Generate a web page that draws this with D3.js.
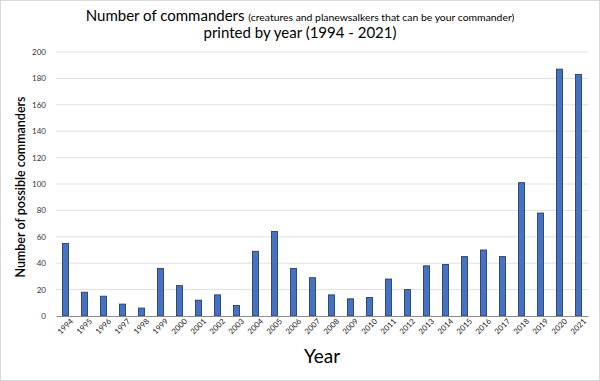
<!DOCTYPE html>
<html><head><meta charset="utf-8">
<script src="https://cdn.jsdelivr.net/npm/d3@7"></script>
<style>body{margin:0;background:#fff}svg{display:block}</style>
</head><body><svg id="c" width="600" height="381"></svg>
<script>
const years = ["1994","1995","1996","1997","1998","1999","2000","2001","2002","2003","2004","2005","2006","2007","2008","2009","2010","2011","2012","2013","2014","2015","2016","2017","2018","2019","2020","2021"];
const counts = [55,18,15,9,6,36,23,12,16,8,49,64,36,29,16,13,14,28,20,38,39,45,50,45,101,78,187,183];
const yTicks = [0,20,40,60,80,100,120,140,160,180,200];

const svg = d3.select("#c");
const W = 600, H = 381;
const m = {left:56, right:12, top:52, bottom:65};
const font = "Lato, 'DejaVu Sans', sans-serif";

svg.append("rect").attr("x",0.5).attr("y",0.5).attr("width",W-1).attr("height",H-1)
  .attr("fill","#fff").attr("stroke","#d9d9d9");

const x = d3.scaleBand().domain(years).range([m.left, W-m.right]).paddingInner(0.68).paddingOuter(0.34);
const y = d3.scaleLinear().domain([0,200]).range([H-m.bottom, m.top]);

// gridlines
svg.append("g").selectAll("line").data(yTicks.filter(d=>d>0)).join("line")
  .attr("x1",m.left).attr("x2",W-m.right)
  .attr("y1",d=>y(d)).attr("y2",d=>y(d))
  .attr("stroke","#e0e0e0").attr("stroke-width",1);

// y axis labels
const ya = svg.append("g").attr("transform",`translate(${m.left},0)`)
  .call(d3.axisLeft(y).tickValues(yTicks).tickSize(0).tickPadding(10));
ya.select(".domain").remove();
ya.selectAll("text").attr("font-family",font).attr("font-size",8).attr("fill","#333");

// bars
svg.append("g").selectAll("rect").data(counts).join("rect")
  .attr("x",(d,i)=>x(years[i]))
  .attr("width",x.bandwidth())
  .attr("y",d=>y(d))
  .attr("height",d=>y(0)-y(d))
  .attr("fill","#4472C4").attr("stroke","#2b3f5e").attr("stroke-width",0.9);

// x axis
const xa = svg.append("g").attr("transform",`translate(0,${y(0)})`)
  .call(d3.axisBottom(x).tickSize(0).tickPadding(6));
xa.select(".domain").attr("stroke","#8c8c8c").attr("stroke-width",1.2);
xa.selectAll("text").attr("font-family",font).attr("font-size",7.8).attr("fill","#1a1a1a")
  .attr("text-anchor","end").attr("dx","0.2em").attr("dy","0.5em")
  .attr("transform","rotate(-45)");

// titles
const t = svg.append("text").attr("x",W/2).attr("y",21).attr("text-anchor","middle")
  .attr("font-family",font).attr("fill","#000");
t.append("tspan").attr("font-size",15).text("Number of commanders ");
t.append("tspan").attr("font-size",10.4).text("(creatures and planewsalkers that can be your commander)");
svg.append("text").attr("x",W/2).attr("y",38).attr("text-anchor","middle")
  .attr("font-family",font).attr("font-size",15).text("printed by year (1994 - 2021)");

svg.append("text").attr("transform",`translate(25,${(y(0)+y(200))/2 + 3}) rotate(-90)`)
  .attr("text-anchor","middle").attr("font-family",font).attr("font-size",12.5).attr("font-weight",600)
  .text("Number of possible commanders");

svg.append("text").attr("x",322).attr("y",363).attr("text-anchor","middle")
  .attr("font-family",font).attr("font-size",19).text("Year");
</script></body></html>
